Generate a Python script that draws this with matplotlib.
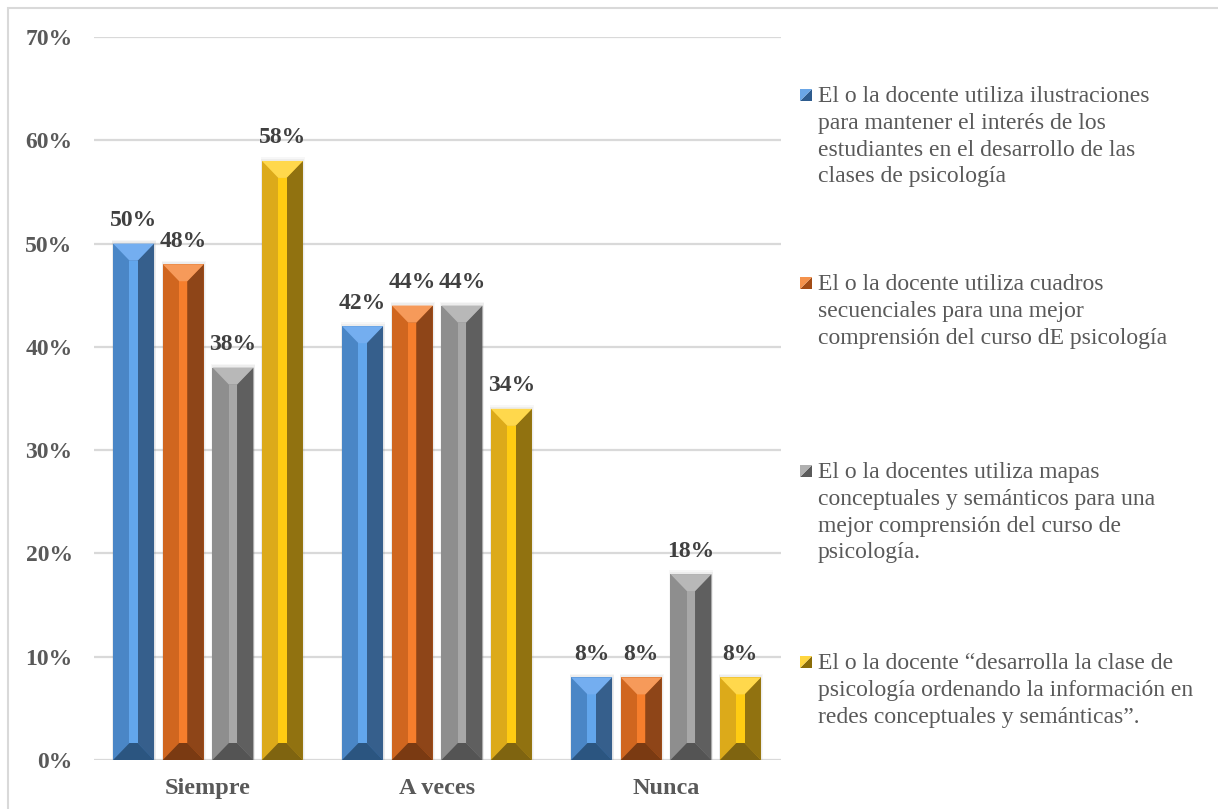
import matplotlib
matplotlib.use('Agg')
import matplotlib.pyplot as plt
from matplotlib.patches import Polygon, Rectangle
import numpy as np

# ---------------- data ----------------
categories = ['Siempre', 'A veces', 'Nunca']
ilustraciones = [0.50, 0.42, 0.08]
cuadros = [0.48, 0.44, 0.08]
mapas = [0.38, 0.44, 0.18]
redes = [0.58, 0.34, 0.08]
series_values = [ilustraciones, cuadros, mapas, redes]
series_labels = [
    "El o la docente utiliza ilustraciones\npara mantener el interés de los\nestudiantes en el desarrollo de las\nclases de psicología",
    "El o la docente utiliza cuadros\nsecuenciales para una mejor\ncomprensión del curso dE psicología",
    "El o la docentes utiliza mapas\nconceptuales y semánticos para una\nmejor comprensión del curso de\npsicología.",
    "El o la docente “desarrolla la clase de\npsicología ordenando la información en\nredes conceptuales y semánticas”.",
]
yticks = [0.0, 0.1, 0.2, 0.3, 0.4, 0.5, 0.6, 0.7]
ytick_labels = ['0%', '10%', '20%', '30%', '40%', '50%', '60%', '70%']

# bevel palettes: (top cap, left face, centre strip, right face, bottom cap)
palettes = [
    ('#74aef0', '#4a86c6', '#62a6ec', '#365f8c', '#2b5580'),
    ('#f69a5a', '#d0661f', '#f67e2c', '#8e4518', '#7a3a12'),
    ('#b8b8b8', '#8e8e8e', '#a8a8a8', '#5f5f5f', '#545454'),
    ('#ffd84c', '#dcaa1a', '#ffcc12', '#917210', '#7f6410'),
]
legend_colors = [('#6aa6e6', '#2e5c8e'), ('#f4924c', '#a24c16'),
                 ('#b0b0b0', '#5a5a5a'), ('#ffd640', '#8a6c08')]

W, H = 1218, 809
fig = plt.figure(figsize=(W / 100, H / 100), dpi=100)
fig.patch.set_facecolor('white')

serif = ['Liberation Serif', 'DejaVu Serif']

# frame (left and top edges visible)
fig.patches.append(Rectangle((8 / W, -0.2), 1.3, 1 - 8 / H + 0.2,
                             transform=fig.transFigure, fill=False,
                             edgecolor='#d9d9d9', lw=1.5))

ax = fig.add_axes([93.5 / W, 49 / H, 687 / W, 723 / H])
ax.set_xlim(-0.5, 2.5)
ax.set_ylim(0, 0.7)
for s in ax.spines.values():
    s.set_visible(False)
ax.set_yticks(yticks)
ax.set_yticklabels(ytick_labels, fontfamily=serif, fontweight='bold',
                   fontsize=17, color='#595959')
ax.tick_params(axis='y', length=0, pad=15)
ax.set_xticks(range(len(categories)))
ax.set_xticklabels(categories, fontfamily=serif, fontweight='bold',
                   fontsize=17.5, color='#595959')
ax.tick_params(axis='x', length=0, pad=13)
ax.grid(axis='y', color='#d9d9d9', lw=1.6, zorder=0)
ax.set_axisbelow(True)

x = np.arange(len(categories))
offsets = [-0.325, -0.108, 0.109, 0.325]
bw = 0.179

# bevel depth: ~17 px converted to data units
d = 17 / ax.bbox.height * 0.7

for vals, off, pal in zip(series_values, offsets, palettes):
    bars = ax.bar(x + off, vals, width=bw, color=pal[1], zorder=3, lw=0)
    for r, v in zip(bars, vals):
        x0 = r.get_x(); w = r.get_width(); h = r.get_height(); x1 = x0 + w
        s0 = x0 + 0.40 * w; s1 = x0 + 0.60 * w
        # soft shadow
        for k, a in [(0.012, 0.06), (0.007, 0.08)]:
            ax.add_patch(Rectangle((x0 - k * 0.4, 0), w + k * 0.8 + 0.004, h + k * 0.3,
                                   color='#808080', alpha=a, lw=0, zorder=2))
        ax.add_patch(Polygon([(x1, h), (s1, h - d), (s1, d), (x1, 0)],
                             closed=True, color=pal[3], lw=0, zorder=4))
        ax.add_patch(Rectangle((s0, d), s1 - s0, h - 2 * d, color=pal[2], lw=0, zorder=4))
        ax.add_patch(Polygon([(x0, h), (x1, h), (s1, h - d), (s0, h - d)],
                             closed=True, color=pal[0], lw=0, zorder=5))
        ax.add_patch(Polygon([(x0, 0), (x1, 0), (s1, d), (s0, d)],
                             closed=True, color=pal[4], lw=0, zorder=5))
        ax.annotate(f"{round(v * 100)}%", (r.get_x() + w / 2, h),
                    xytext=(0, 9), textcoords='offset points',
                    ha='center', va='bottom', fontfamily=serif,
                    fontweight='bold', fontsize=17, color='#404040', zorder=6)

# legend (manual, matching Excel layout)
first_line_y = [95, 283, 471, 662]
for lbl, yc, (c1, c2) in zip(series_labels, first_line_y, legend_colors):
    mx, ms = 800, 12
    yb = H - (yc + ms / 2)
    fig.patches.append(Polygon([((mx) / W, yb / H), ((mx + ms) / W, yb / H),
                                ((mx + ms) / W, (yb + ms) / H)],
                               closed=True, transform=fig.transFigure,
                               color=c2, lw=0))
    fig.patches.append(Polygon([((mx) / W, yb / H), ((mx) / W, (yb + ms) / H),
                                ((mx + ms) / W, (yb + ms) / H)],
                               closed=True, transform=fig.transFigure,
                               color=c1, lw=0))
    fig.text(818 / W, 1 - (yc - 9) / H, lbl, ha='left', va='top',
             fontfamily=serif, fontsize=17, color='#595959',
             linespacing=1.36)

fig.savefig('out.png', dpi=100, facecolor='white')
